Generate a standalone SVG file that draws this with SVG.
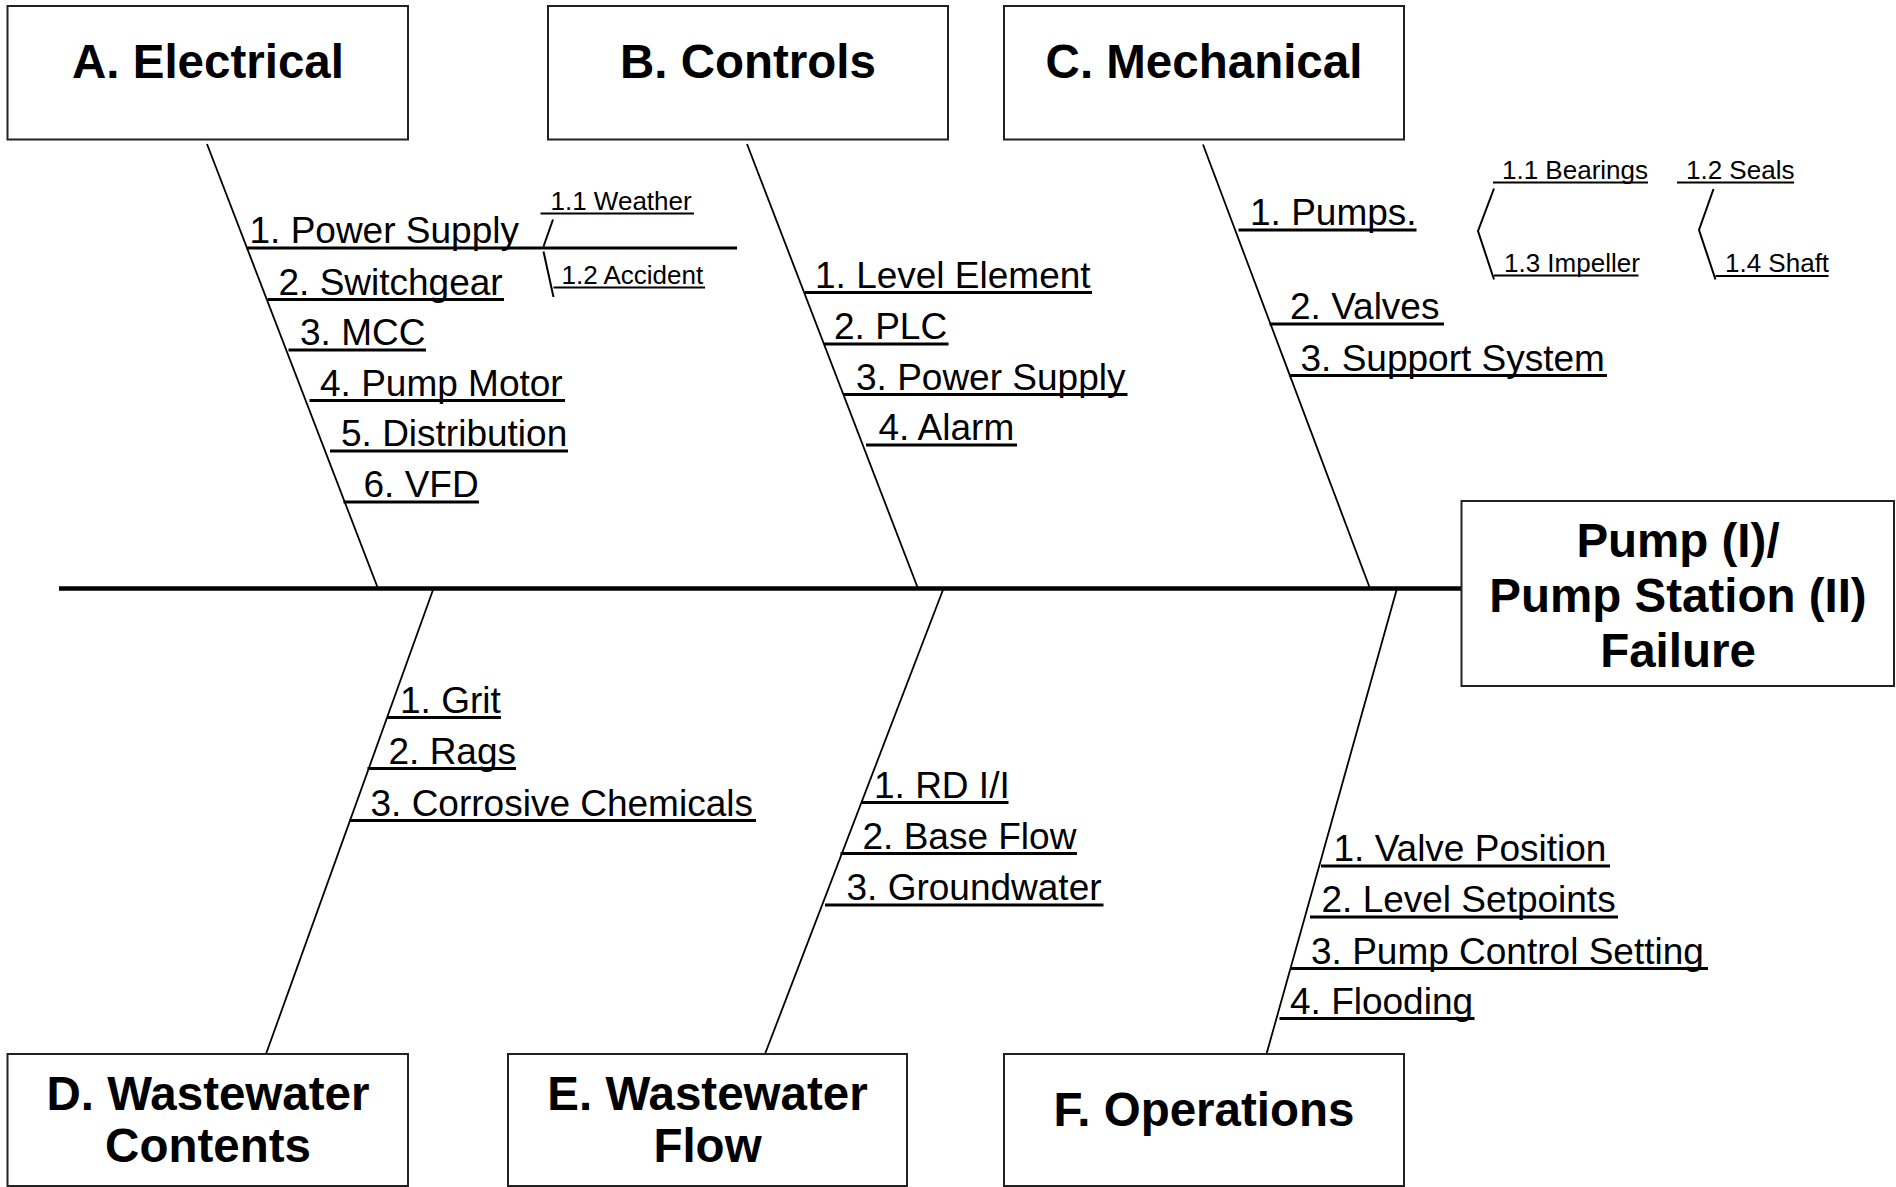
<svg xmlns="http://www.w3.org/2000/svg" width="1896" height="1187" viewBox="0 0 1896 1187">
<style>
  .box { fill: #fff; stroke: #222; stroke-width: 2; }
  .title { font-family: "Liberation Sans", Arial, sans-serif; font-weight: bold; font-size: 47.5px; fill: #000; text-anchor: middle; }
  .lbl { font-family: "Liberation Sans", Arial, sans-serif; font-size: 37px; fill: #000; }
  .sub { font-family: "Liberation Sans", Arial, sans-serif; font-size: 26px; fill: #000; }
  .bone { stroke: #000; stroke-width: 1.8; fill: none; }
  .ul { stroke: #000; stroke-width: 3; }
  .ulsub { stroke: #000; stroke-width: 2; }
  .spine { stroke: #000; stroke-width: 4.5; }
</style>
<rect width="1896" height="1187" fill="#fff"/>

<g id="connectors">
  <line class="spine" x1="59" y1="588.5" x2="1461.5" y2="588.5"/>
  <line class="bone" x1="207" y1="144" x2="378" y2="588.5"/>
  <line class="bone" x1="747" y1="144" x2="918" y2="588.5"/>
  <line class="bone" x1="1203" y1="144.5" x2="1370" y2="588.5"/>
  <line class="bone" x1="433.5" y1="588.5" x2="266" y2="1054"/>
  <line class="bone" x1="943.5" y1="588.5" x2="765" y2="1054"/>
  <line class="bone" x1="1397" y1="588.5" x2="1266.5" y2="1054"/>
</g>

<g id="A-electrical">
  <rect class="box" x="7.5" y="6" width="400.5" height="133.5"/>
  <text class="title" x="208" y="78">A. Electrical</text>
  <line class="ul" x1="246.5" y1="248" x2="737" y2="248"/>
  <text class="lbl" x="249.5" y="243">1. Power Supply</text>
  <line class="ul" x1="267.5" y1="299.5" x2="504" y2="299.5"/>
  <text class="lbl" x="278.5" y="294.5">2. Switchgear</text>
  <line class="ul" x1="288.5" y1="350" x2="426" y2="350"/>
  <text class="lbl" x="300" y="345">3. MCC</text>
  <line class="ul" x1="309.5" y1="400.5" x2="565" y2="400.5"/>
  <text class="lbl" x="320" y="395.5">4. Pump Motor</text>
  <line class="ul" x1="330" y1="451" x2="568" y2="451"/>
  <text class="lbl" x="341" y="446">5. Distribution</text>
  <line class="ul" x1="343.5" y1="502" x2="479" y2="502"/>
  <text class="lbl" x="363.5" y="497">6. VFD</text>
  <g id="A1-sub">
    <line class="ulsub" x1="540.5" y1="213.5" x2="694" y2="213.5"/>
    <text class="sub" x="550.5" y="209.5">1.1 Weather</text>
    <line class="ulsub" x1="553" y1="219.5" x2="543.5" y2="246.5"/>
    <line class="ulsub" x1="543.5" y1="251.5" x2="553.5" y2="297"/>
    <line class="ulsub" x1="553.5" y1="287.5" x2="705" y2="287.5"/>
    <text class="sub" x="561.5" y="283.5">1.2 Accident</text>
  </g>
</g>

<g id="B-controls">
  <rect class="box" x="548" y="6" width="400" height="133.5"/>
  <text class="title" x="748" y="78">B. Controls</text>
  <line class="ul" x1="805" y1="292.5" x2="1092" y2="292.5"/>
  <text class="lbl" x="815" y="287.5">1. Level Element</text>
  <line class="ul" x1="824" y1="344" x2="948.5" y2="344"/>
  <text class="lbl" x="834" y="339">2. PLC</text>
  <line class="ul" x1="844" y1="394.5" x2="1127.5" y2="394.5"/>
  <text class="lbl" x="856" y="389.5">3. Power Supply</text>
  <line class="ul" x1="866" y1="445" x2="1017" y2="445"/>
  <text class="lbl" x="878.5" y="440">4. Alarm</text>
</g>

<g id="C-mechanical">
  <rect class="box" x="1004" y="6" width="400" height="133.5"/>
  <text class="title" x="1204" y="78">C. Mechanical</text>
  <line class="ul" x1="1238.5" y1="230" x2="1416.5" y2="230"/>
  <text class="lbl" x="1250" y="225">1. Pumps.</text>
  <line class="ul" x1="1269.5" y1="324" x2="1444" y2="324"/>
  <text class="lbl" x="1290" y="319">2. Valves</text>
  <line class="ul" x1="1289.5" y1="375.5" x2="1607" y2="375.5"/>
  <text class="lbl" x="1300.5" y="370.5">3. Support System</text>
  <g id="C1-sub">
    <line class="ulsub" x1="1493" y1="182.5" x2="1648" y2="182.5"/>
    <text class="sub" x="1502" y="178.5">1.1 Bearings</text>
    <line class="ulsub" x1="1677" y1="182.5" x2="1794" y2="182.5"/>
    <text class="sub" x="1686" y="178.5">1.2 Seals</text>
    <polyline class="ulsub" fill="none" points="1494,188.5 1478,231 1494,279.5"/>
    <polyline class="ulsub" fill="none" points="1713.5,189 1699,230 1715.5,279.5"/>
    <line class="ulsub" x1="1494" y1="275.5" x2="1638.5" y2="275.5"/>
    <text class="sub" x="1504" y="271.5">1.3 Impeller</text>
    <line class="ulsub" x1="1715.5" y1="276" x2="1828.5" y2="276"/>
    <text class="sub" x="1725" y="272">1.4 Shaft</text>
  </g>
</g>

<g id="effect">
  <rect class="box" x="1461.5" y="501" width="432.5" height="185"/>
  <text class="title" font-size="48" x="1678" y="557">Pump (I)/</text>
  <text class="title" font-size="48" x="1678" y="611.5">Pump Station (II)</text>
  <text class="title" font-size="48" x="1678" y="666.5">Failure</text>
</g>

<g id="D-contents">
  <rect class="box" x="7.5" y="1054" width="400.5" height="132"/>
  <text class="title" x="208" y="1110">D. Wastewater</text>
  <text class="title" x="208" y="1162">Contents</text>
  <line class="ul" x1="387.5" y1="717.5" x2="501" y2="717.5"/>
  <text class="lbl" x="400" y="712.5">1. Grit</text>
  <line class="ul" x1="367.5" y1="768.5" x2="516" y2="768.5"/>
  <text class="lbl" x="388.5" y="763.5">2. Rags</text>
  <line class="ul" x1="349.5" y1="820.5" x2="756" y2="820.5"/>
  <text class="lbl" x="370.5" y="815.5">3. Corrosive Chemicals</text>
</g>

<g id="E-flow">
  <rect class="box" x="508" y="1054" width="399" height="132"/>
  <text class="title" x="707.5" y="1110">E. Wastewater</text>
  <text class="title" x="707.5" y="1162">Flow</text>
  <line class="ul" x1="861.5" y1="802.5" x2="1008.5" y2="802.5"/>
  <text class="lbl" x="874" y="797.5">1. RD I/I</text>
  <line class="ul" x1="840.5" y1="853.5" x2="1077" y2="853.5"/>
  <text class="lbl" x="862.5" y="848.5">2. Base Flow</text>
  <line class="ul" x1="825" y1="905" x2="1103.5" y2="905"/>
  <text class="lbl" x="846.5" y="900">3. Groundwater</text>
</g>

<g id="F-operations">
  <rect class="box" x="1004" y="1054" width="400" height="132"/>
  <text class="title" x="1204" y="1126">F. Operations</text>
  <line class="ul" x1="1321" y1="866" x2="1610" y2="866"/>
  <text class="lbl" x="1333.5" y="861">1. Valve Position</text>
  <line class="ul" x1="1310" y1="917" x2="1618" y2="917"/>
  <text class="lbl" x="1321.5" y="912">2. Level Setpoints</text>
  <line class="ul" x1="1290" y1="968.5" x2="1708" y2="968.5"/>
  <text class="lbl" x="1311" y="963.5">3. Pump Control Setting</text>
  <line class="ul" x1="1279.5" y1="1018.5" x2="1474.5" y2="1018.5"/>
  <text class="lbl" x="1290" y="1013.5">4. Flooding</text>
</g>
</svg>
